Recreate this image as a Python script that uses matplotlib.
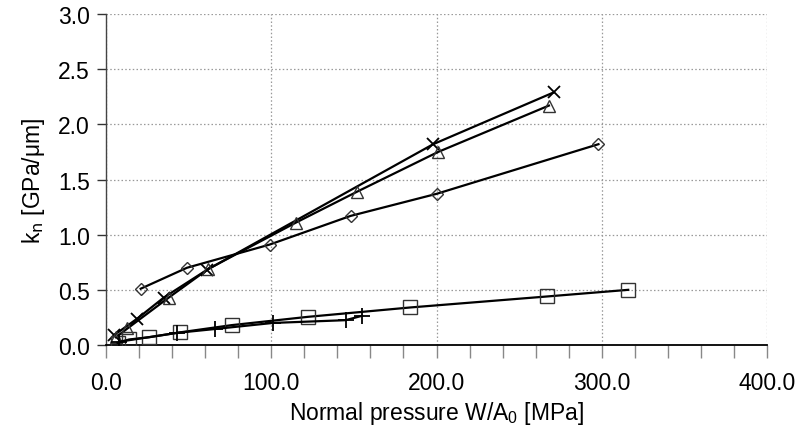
import matplotlib
matplotlib.use("Agg")
import matplotlib.pyplot as plt
from matplotlib.ticker import MultipleLocator, FormatStrFormatter

plt.rcParams['font.family'] = ['Liberation Sans', 'DejaVu Sans']
plt.rcParams['mathtext.default'] = 'regular'

# Data
cross_x = [5, 19, 35, 61, 198, 271]
cross_y = [0.09, 0.24, 0.43, 0.68, 1.82, 2.29]

tri_x = [6, 13, 38, 62, 115, 152, 201, 268]
tri_y = [0.07, 0.15, 0.43, 0.69, 1.11, 1.39, 1.75, 2.17]

dia_x = [21, 49, 99, 148, 200, 298]
dia_y = [0.51, 0.70, 0.91, 1.17, 1.37, 1.82]

sq_x = [7, 14, 26, 45, 76, 122, 184, 267, 316]
sq_y = [0.02, 0.05, 0.07, 0.115, 0.18, 0.255, 0.34, 0.44, 0.50]

plus_x = [8, 43, 66, 101, 145, 155]
plus_y = [0.03, 0.11, 0.145, 0.20, 0.225, 0.265]

fig = plt.figure(figsize=(7.98, 4.35), dpi=100)
ax = fig.add_axes([0.1328, 0.2046, 0.8284, 0.7609])

lw = 1.6
mec = '#333333'
ax.plot(cross_x, cross_y, color='black', lw=lw, marker='x', ms=9, mew=1.3, mec='black', zorder=3)
ax.plot(tri_x, tri_y, color='black', lw=lw, marker='^', ms=9, mew=1.0, mec=mec, mfc='none', zorder=3)
ax.plot(dia_x, dia_y, color='black', lw=lw, marker='D', ms=6.5, mew=1.0, mec=mec, mfc='none', zorder=3)
ax.plot(sq_x, sq_y, color='black', lw=lw, marker='s', ms=9.5, mew=1.0, mec=mec, mfc='none', zorder=3)
ax.plot(plus_x, plus_y, color='black', lw=lw, marker='+', ms=11, mew=1.3, mec='black', zorder=3)

ax.set_xlim(0, 400)
ax.set_ylim(0, 3.0)
ax.xaxis.set_major_locator(MultipleLocator(100))
ax.xaxis.set_minor_locator(MultipleLocator(20))
ax.yaxis.set_major_locator(MultipleLocator(0.5))
ax.xaxis.set_major_formatter(FormatStrFormatter('%.1f'))
ax.yaxis.set_major_formatter(FormatStrFormatter('%.1f'))

ax.grid(True, which='major', linestyle=(0, (1.2, 1.8)), color='#999999', lw=0.9)
ax.set_axisbelow(True)

for s in ['top', 'right']:
    ax.spines[s].set_visible(False)
ax.spines['bottom'].set_color('black')
ax.spines['bottom'].set_linewidth(1.3)
ax.spines['left'].set_color('#444444')
ax.spines['left'].set_linewidth(1.0)

fs = 16.5
ax.tick_params(axis='x', which='both', direction='out', length=9.5, width=1.0,
               color='#888888', labelsize=fs, pad=9)
ax.tick_params(axis='y', which='major', direction='out', length=6.5, width=1.0,
               color='#333333', labelsize=fs, pad=5)

ax.set_xlabel('Normal pressure W/A$_0$ [MPa]', fontsize=16.5, labelpad=4)
ax.set_ylabel('k$_\\mathrm{n}$ [GPa/μm]', fontsize=16.5, labelpad=8)

fig.savefig('out.png', dpi=100)
